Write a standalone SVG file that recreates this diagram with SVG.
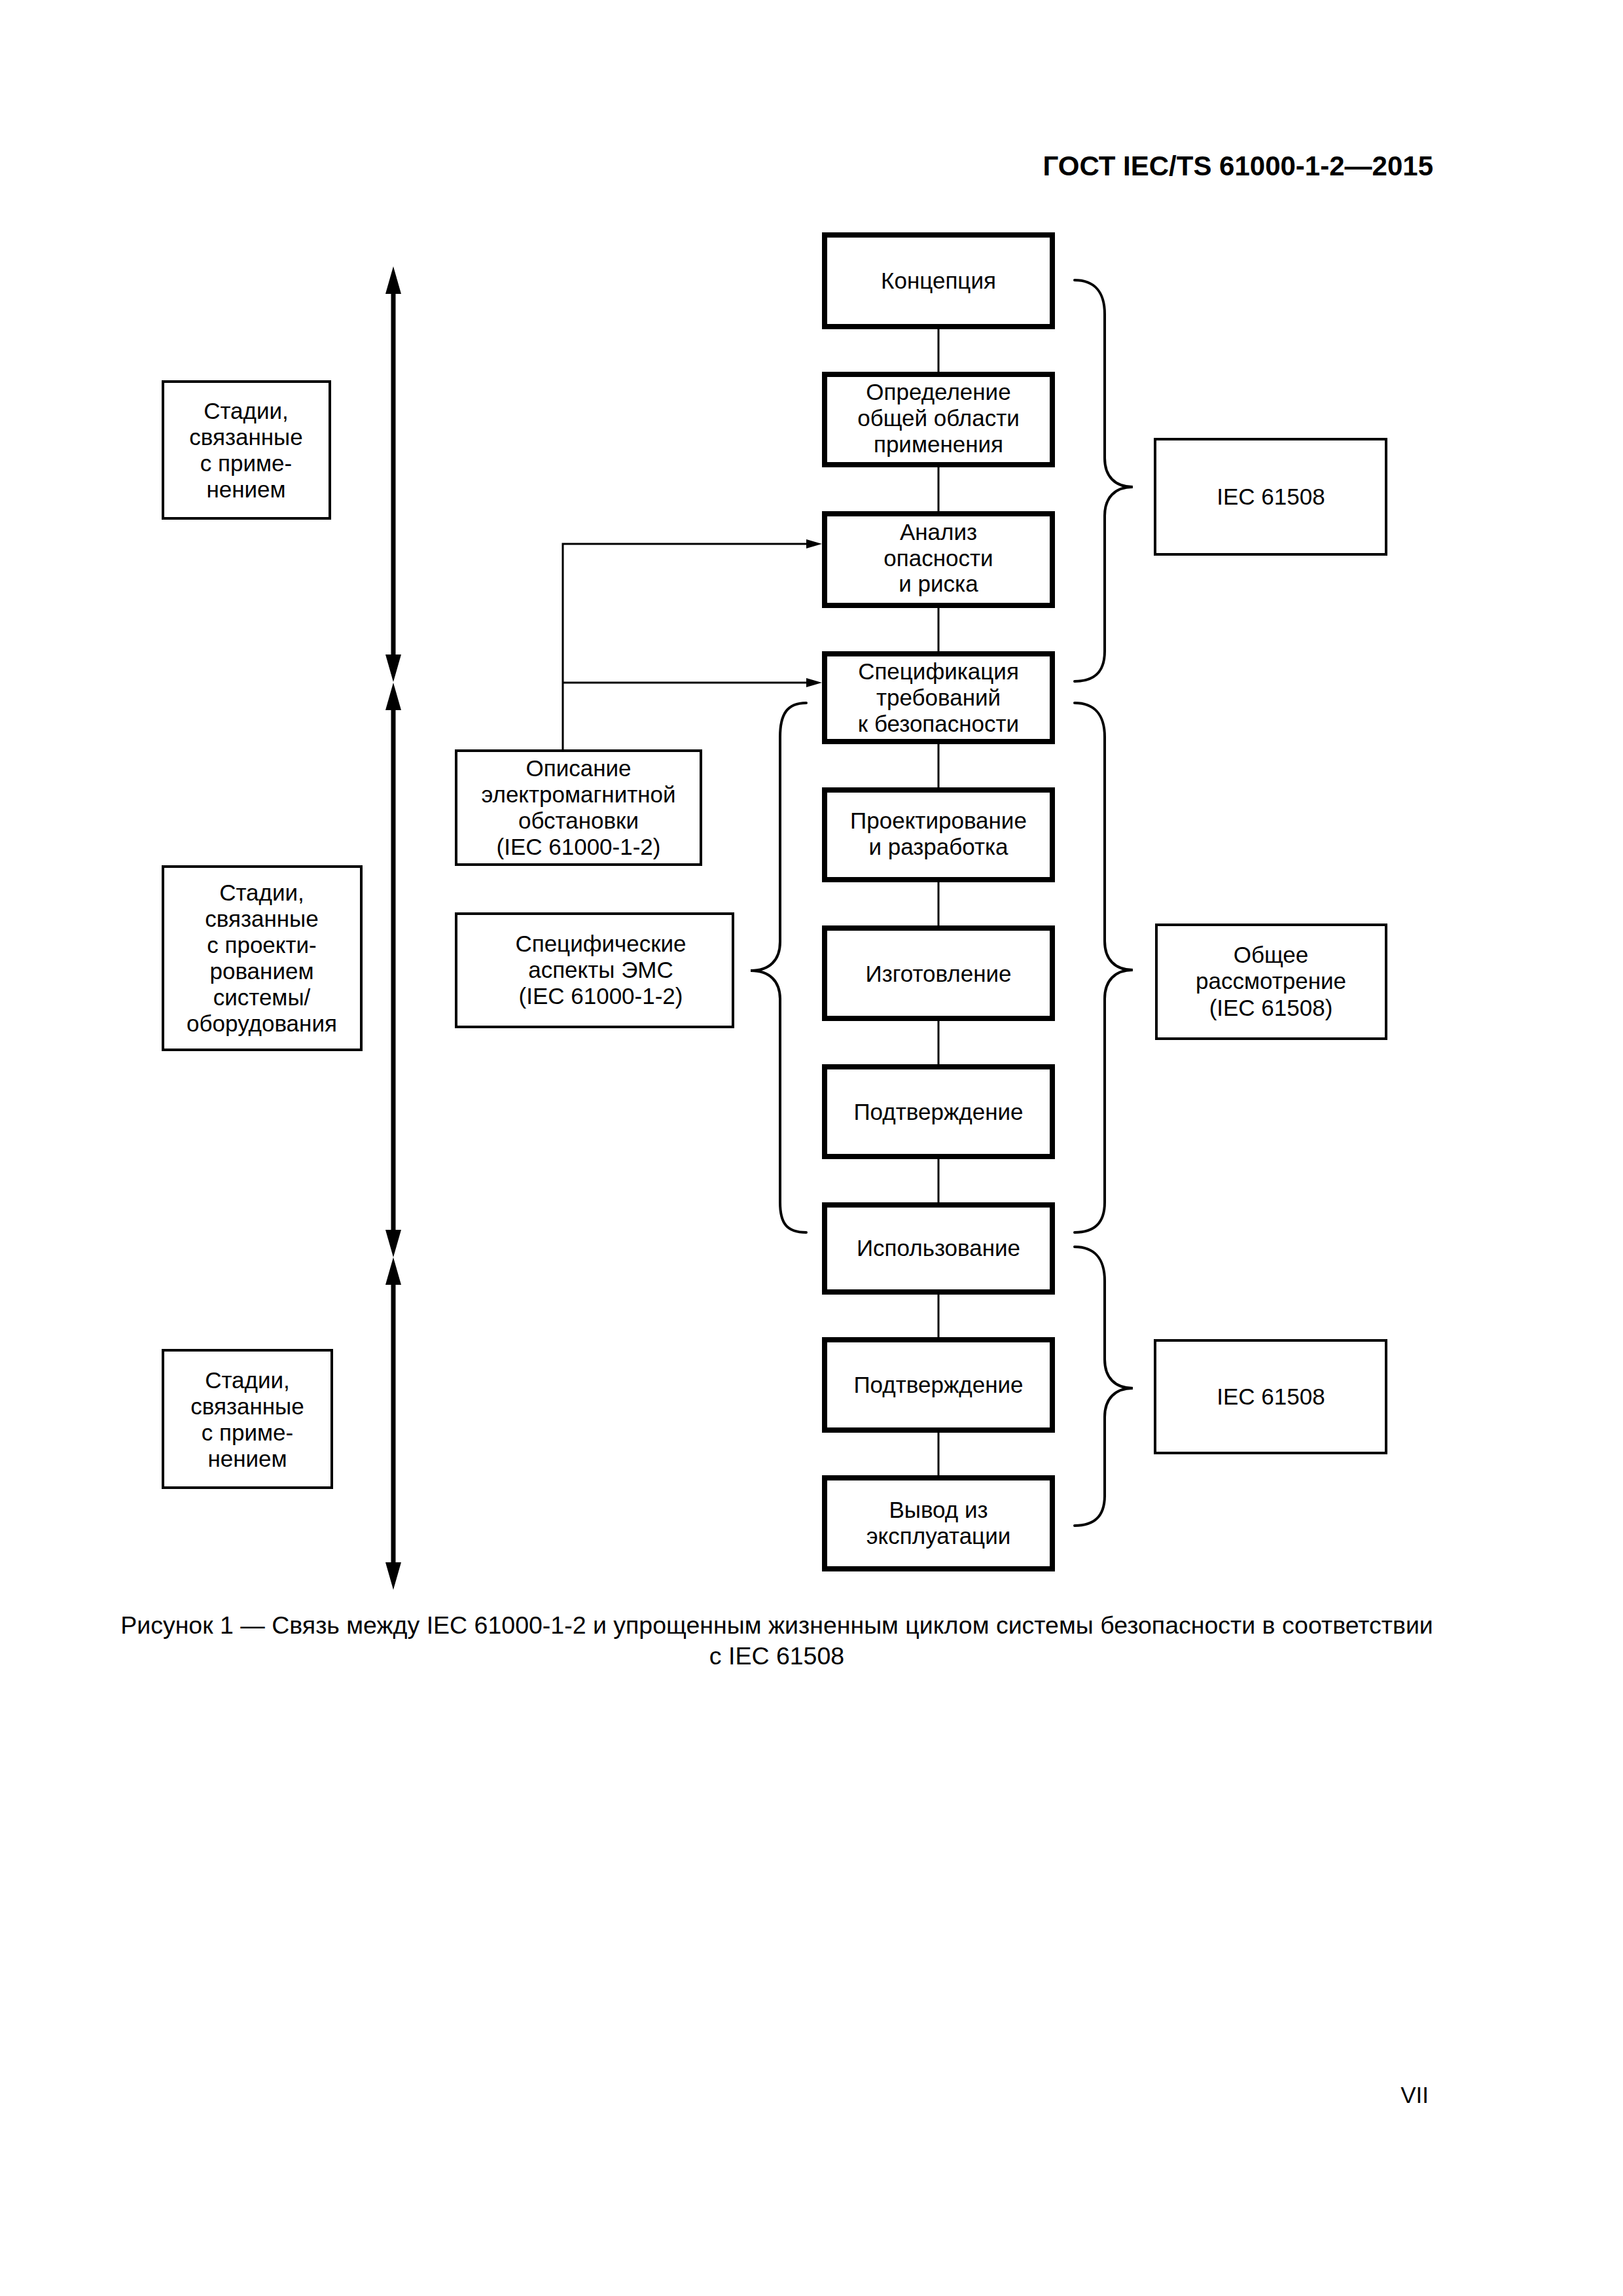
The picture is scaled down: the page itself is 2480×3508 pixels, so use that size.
<svg xmlns="http://www.w3.org/2000/svg" width="2480" height="3508" viewBox="0 0 2480 3508">
<style>
text{font-family:"Liberation Sans",Arial,sans-serif;font-size:35px;fill:#000;text-anchor:middle}
.main rect{fill:#fff;stroke:#000;stroke-width:8}
.thin rect{fill:#fff;stroke:#000;stroke-width:4}
.ln{stroke:#000;stroke-width:3;fill:none}
.dbl{stroke:#000;stroke-width:7;fill:none}
.br{stroke:#000;stroke-width:4;fill:none;stroke-linecap:round}
.hdr{font-weight:bold;font-size:42px;text-anchor:end}
.cap{font-size:37.5px}
</style>
<defs>
<marker id="big" viewBox="0 0 42 24" refX="0" refY="12" markerWidth="42" markerHeight="24" markerUnits="userSpaceOnUse" orient="auto-start-reverse"><path d="M0,0 L42,12 L0,24 z" fill="#000"/></marker>
<marker id="sm" viewBox="0 0 24 14" refX="0" refY="7" markerWidth="24" markerHeight="14" markerUnits="userSpaceOnUse" orient="auto"><path d="M0,0 L24,7 L0,14 z" fill="#000"/></marker>
</defs>
<rect x="0" y="0" width="2480" height="3508" fill="#fff"/>
<text class="hdr" x="2190" y="268">ГОСТ IEC/TS 61000-1-2—2015</text>

<g id="connectors">
<line class="ln" x1="1434" y1="503" x2="1434" y2="568"/>
<line class="ln" x1="1434" y1="714" x2="1434" y2="781"/>
<line class="ln" x1="1434" y1="929" x2="1434" y2="995"/>
<line class="ln" x1="1434" y1="1137" x2="1434" y2="1203"/>
<line class="ln" x1="1434" y1="1348" x2="1434" y2="1414"/>
<line class="ln" x1="1434" y1="1560" x2="1434" y2="1626"/>
<line class="ln" x1="1434" y1="1771" x2="1434" y2="1837"/>
<line class="ln" x1="1434" y1="1978" x2="1434" y2="2043"/>
<line class="ln" x1="1434" y1="2189" x2="1434" y2="2254"/>
<polyline class="ln" points="860,1145 860,831 1232,831" marker-end="url(#sm)"/>
<line class="ln" x1="860" y1="1043" x2="1232" y2="1043" marker-end="url(#sm)"/>
<line class="dbl" x1="601" y1="449" x2="601" y2="1000" marker-start="url(#big)" marker-end="url(#big)"/>
<line class="dbl" x1="601" y1="1085" x2="601" y2="1879" marker-start="url(#big)" marker-end="url(#big)"/>
<line class="dbl" x1="601" y1="1963" x2="601" y2="2387" marker-start="url(#big)" marker-end="url(#big)"/>
<path class="br" d="M1642,428 C1672,428 1688,446 1688,480 L1688,700 C1688,728 1704,744 1731,744 C1704,744 1688,760 1688,788 L1688,995 C1688,1027 1672,1041 1642,1041"/>
<path class="br" d="M1642,1074 C1672,1074 1688,1092 1688,1126 L1688,1438 C1688,1466 1704,1482 1731,1482 C1704,1482 1688,1498 1688,1526 L1688,1837 C1688,1869 1672,1883 1642,1883"/>
<path class="br" d="M1642,1905 C1672,1905 1688,1923 1688,1957 L1688,2077 C1688,2105 1704,2121 1731,2121 C1704,2121 1688,2137 1688,2165 L1688,2285 C1688,2317 1672,2331 1642,2331"/>
<path class="br" d="M1232,1074 C1202,1074 1192,1092 1192,1126 L1192,1439 C1192,1467 1176,1483 1147,1483 C1176,1483 1192,1499 1192,1527 L1192,1837 C1192,1869 1202,1883 1232,1883"/>
</g>

<g id="n-koncepciya" class="main"><rect x="1260" y="359" width="348" height="140"/><text x="1434" y="441">Концепция</text></g>
<g id="n-opredelenie" class="main"><rect x="1260" y="572" width="348" height="138"/><text x="1434" y="611">Определение</text><text x="1434" y="651">общей области</text><text x="1434" y="691">применения</text></g>
<g id="n-analiz" class="main"><rect x="1260" y="785" width="348" height="140"/><text x="1434" y="825">Анализ</text><text x="1434" y="865">опасности</text><text x="1434" y="904">и риска</text></g>
<g id="n-specifikaciya" class="main"><rect x="1260" y="999" width="348" height="134"/><text x="1434" y="1038">Спецификация</text><text x="1434" y="1078">требований</text><text x="1434" y="1118">к безопасности</text></g>
<g id="n-proektirovanie" class="main"><rect x="1260" y="1207" width="348" height="137"/><text x="1434" y="1266">Проектирование</text><text x="1434" y="1306">и разработка</text></g>
<g id="n-izgotovlenie" class="main"><rect x="1260" y="1418" width="348" height="138"/><text x="1434" y="1500">Изготовление</text></g>
<g id="n-podtverzhdenie1" class="main"><rect x="1260" y="1630" width="348" height="137"/><text x="1434" y="1711">Подтверждение</text></g>
<g id="n-ispolzovanie" class="main"><rect x="1260" y="1841" width="348" height="133"/><text x="1434" y="1919">Использование</text></g>
<g id="n-podtverzhdenie2" class="main"><rect x="1260" y="2047" width="348" height="138"/><text x="1434" y="2128">Подтверждение</text></g>
<g id="n-vyvod" class="main"><rect x="1260" y="2258" width="348" height="139"/><text x="1434" y="2319">Вывод из</text><text x="1434" y="2359">эксплуатации</text></g>

<g id="n-iec1" class="thin"><rect x="1765" y="671" width="353" height="176"/><text x="1942" y="771">IEC 61508</text></g>
<g id="n-obshee" class="thin"><rect x="1767" y="1413" width="351" height="174"/><text x="1942" y="1471">Общее</text><text x="1942" y="1511">рассмотрение</text><text x="1942" y="1552">(IEC 61508)</text></g>
<g id="n-iec2" class="thin"><rect x="1765" y="2048" width="353" height="172"/><text x="1942" y="2146">IEC 61508</text></g>

<g id="n-opisanie" class="thin"><rect x="697" y="1147" width="374" height="174"/><text x="884" y="1186">Описание</text><text x="884" y="1226">электромагнитной</text><text x="884" y="1266">обстановки</text><text x="884" y="1306">(IEC 61000-1-2)</text></g>
<g id="n-specificheskie" class="thin"><rect x="697" y="1396" width="423" height="173"/><text x="918" y="1454">Специфические</text><text x="918" y="1494">аспекты ЭМС</text><text x="918" y="1534">(IEC 61000-1-2)</text></g>

<g id="n-stadii1" class="thin"><rect x="249" y="583" width="255" height="209"/><text x="376" y="640">Стадии,</text><text x="376" y="680">связанные</text><text x="376" y="720">с приме-</text><text x="376" y="760">нением</text></g>
<g id="n-stadii2" class="thin"><rect x="249" y="1324" width="303" height="280"/><text x="400" y="1376">Стадии,</text><text x="400" y="1416">связанные</text><text x="400" y="1456">с проекти-</text><text x="400" y="1496">рованием</text><text x="400" y="1536">системы/</text><text x="400" y="1576">оборудования</text></g>
<g id="n-stadii3" class="thin"><rect x="249" y="2063" width="258" height="210"/><text x="378" y="2121">Стадии,</text><text x="378" y="2161">связанные</text><text x="378" y="2201">с приме-</text><text x="378" y="2241">нением</text></g>

<text class="cap" x="1187" y="2496">Рисунок 1 — Связь между IEC 61000-1-2 и упрощенным жизненным циклом системы безопасности в соответствии</text>
<text class="cap" x="1187" y="2543">с IEC 61508</text>
<text x="2183" y="3213" style="text-anchor:end">VII</text>
</svg>
